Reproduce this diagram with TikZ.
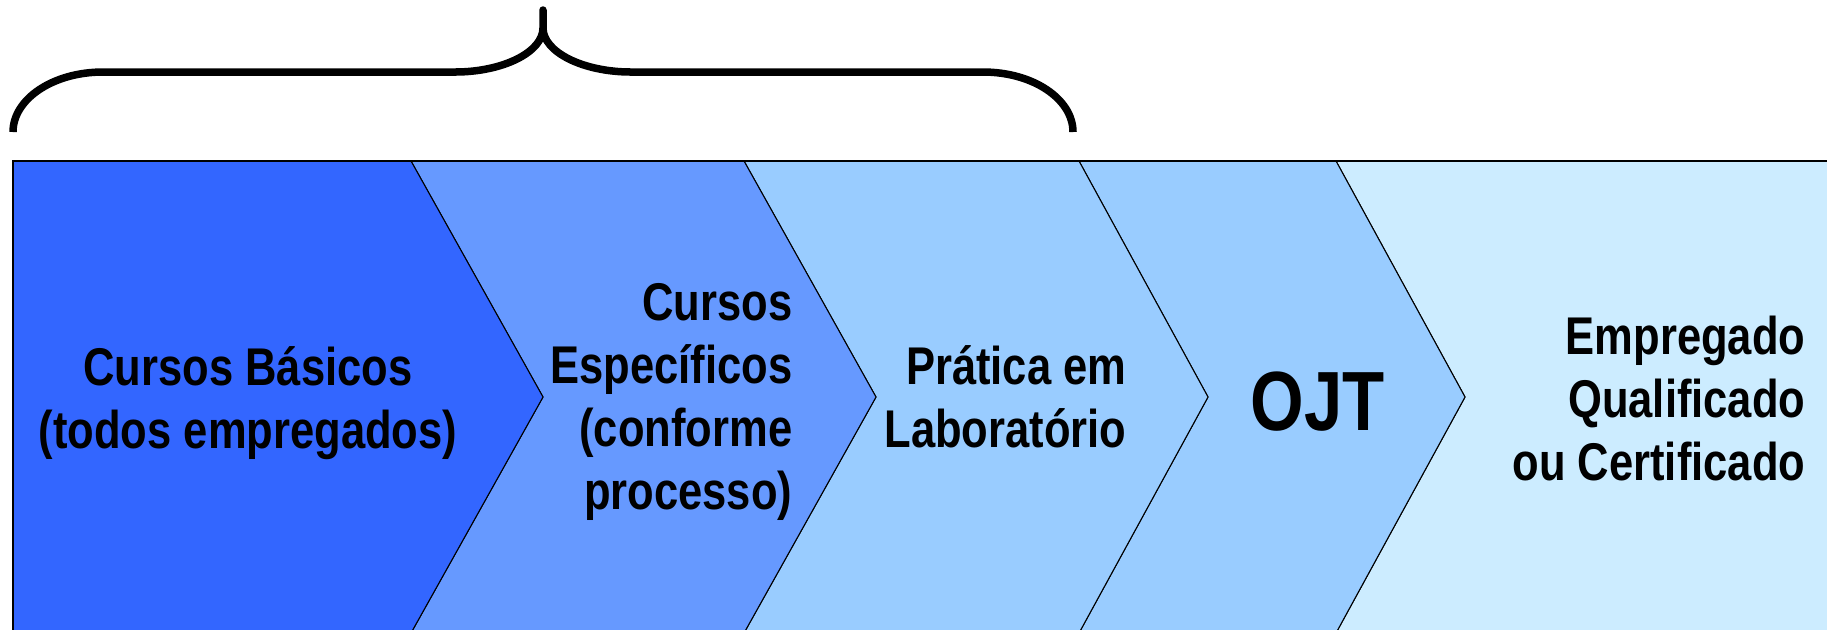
\documentclass[tikz,border=0pt]{standalone}
\usepackage{fontspec}
\setmainfont{Liberation Sans}[FakeStretch=0.82]
\usepackage{tikz}

\definecolor{etapaum}{RGB}{51,102,255}
\definecolor{etapadois}{RGB}{102,153,255}
\definecolor{etapatres}{RGB}{153,204,255}
\definecolor{etapafim}{RGB}{204,236,255}

\tikzset{
    etapa/.style={draw=black, line width=0.3pt, line join=miter},
    rotulo/.style={inner sep=0pt, font=\bfseries\fontsize{15.1}{17.9}\selectfont},
}

\begin{document}
\begin{tikzpicture}[x=0.01cm, y=-0.01cm]
        \clip (0,0) rectangle (1827,629);
        % chevrons, da direita para a esquerda
        \draw [etapa, fill=etapafim] (1336,161) -- (1900,161) -- (1900,633) -- (1336,633) -- (1465,397) -- cycle;
        \draw [etapa, fill=etapatres] (1079,161) -- (1336,161) -- (1465,397) -- (1336,633) -- (1079,633) -- (1208,397) -- cycle;
        \draw [etapa, fill=etapatres] (744,161) -- (1079,161) -- (1208,397) -- (1079,633) -- (744,633) -- (876,397) -- cycle;
        \draw [etapa, fill=etapadois] (411,161) -- (744,161) -- (876,397) -- (744,633) -- (411,633) -- (543,397) -- cycle;
        \draw [etapa, fill=etapaum] (13,161) -- (411,161) -- (543,397) -- (411,633) -- (13,633) -- cycle;
        \draw [line width=0.6pt] (13,640) -- (13,161) -- (1900,161);
        % chave
        \draw [line width=0.075cm, line join=round] (13,132) .. controls (13,99) and (53,72) .. (103,72)
            -- (455,72) .. controls (503,72) and (543,52) .. (543,28) -- (543,10)
            -- (543,28) .. controls (543,52) and (583,72) .. (631,72)
            -- (983,72) .. controls (1033,72) and (1073,99) .. (1073,132);
        % textos (base = linha de base da ultima linha)
        \node [rotulo, align=center, anchor=base] (basicos) at (248,448) {Cursos Básicos\\(todos empregados)};
        \node [rotulo, align=right, anchor=base east] (especificos) at (793,509) {Cursos\\Específicos\\(conforme\\processo)};
        \node [rotulo, align=right, anchor=base east] (pratica) at (1127,447) {Prática em\\Laboratório};
        \node [inner sep=0pt, font=\bfseries\fontsize{23.9}{28}\selectfont, anchor=base west] (ojt) at (1250,430) {OJT};
        \node [rotulo, align=right, anchor=base east] (empregado) at (1806,480) {Empregado\\Qualificado\\ou Certificado};
    \end{tikzpicture}
\end{document}
